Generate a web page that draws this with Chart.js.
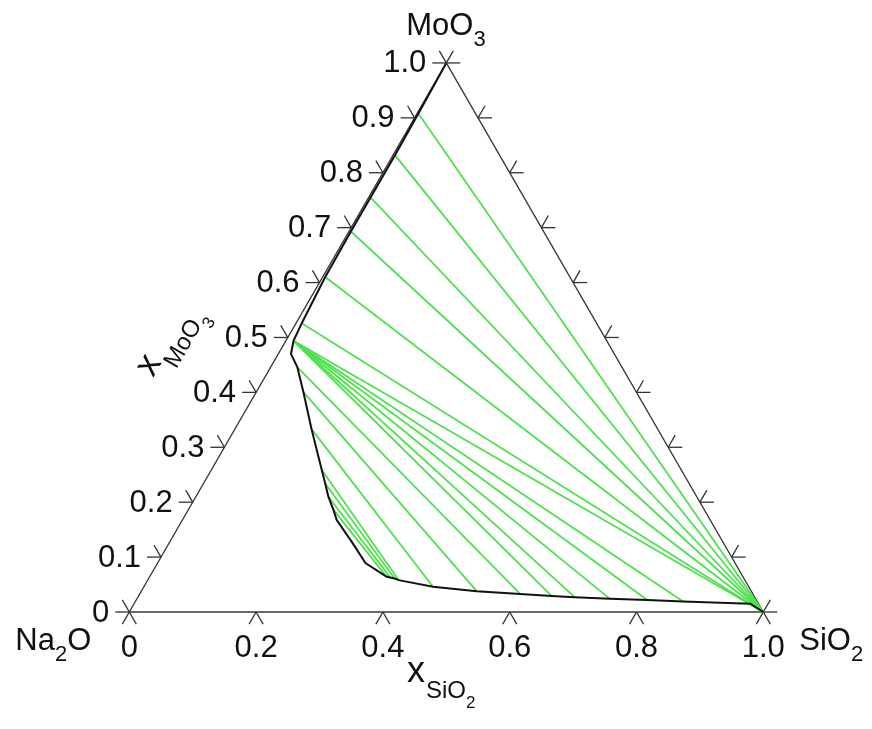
<!DOCTYPE html>
<html>
<head>
<meta charset="utf-8">
<script src="https://cdn.jsdelivr.net/npm/chart.js@4.4.0/dist/chart.umd.min.js"></script>
<style>
  body { margin: 0; background: #fff; }
  #wrap { width: 872px; height: 729px; }
</style>
</head>
<body>
<div id="wrap"><canvas id="tern" width="872" height="729"></canvas></div>
<script>
// === DONNÉES (compositions ternaires : xSiO2, xMoO3) ===
// frontière du domaine biphasé (ligne noire)
const bndS = [0.000, 0.002, 0.003, 0.003, 0.003, 0.004, 0.009, 0.012, 0.020, 0.042, 0.074, 0.121, 0.174, 0.192, 0.209, 0.229, 0.243, 0.290, 0.328, 0.374, 0.380, 0.388, 0.396, 0.456, 0.529, 0.600, 0.652, 0.689, 0.746, 0.806, 0.864, 0.972, 1.000];
const bndM = [1.000, 0.908, 0.832, 0.755, 0.693, 0.610, 0.526, 0.494, 0.470, 0.446, 0.401, 0.333, 0.259, 0.234, 0.210, 0.186, 0.168, 0.125, 0.089, 0.064, 0.063, 0.061, 0.058, 0.046, 0.038, 0.033, 0.029, 0.027, 0.024, 0.022, 0.019, 0.015, 0.000];

// conodes (lignes vertes) : début -> fin
const tieS0 = [0.002, 0.003, 0.003, 0.003, 0.004, 0.009, 0.012, 0.012, 0.012, 0.012, 0.012, 0.012, 0.042, 0.074, 0.121, 0.174, 0.192, 0.209, 0.229];
const tieM0 = [0.908, 0.832, 0.755, 0.693, 0.610, 0.526, 0.494, 0.494, 0.494, 0.494, 0.494, 0.494, 0.446, 0.401, 0.333, 0.259, 0.234, 0.210, 0.186];
const tieS1 = [1.000, 1.000, 1.000, 1.000, 1.000, 1.000, 1.000, 0.864, 0.806, 0.746, 0.689, 0.652, 0.600, 0.529, 0.456, 0.396, 0.388, 0.380, 0.374];
const tieM1 = [0.000, 0.000, 0.000, 0.000, 0.000, 0.000, 0.000, 0.019, 0.022, 0.024, 0.027, 0.029, 0.033, 0.038, 0.046, 0.058, 0.061, 0.063, 0.064];

// graduations
const leftTicks = [0, 0.1, 0.2, 0.3, 0.4, 0.5, 0.6, 0.7, 0.8, 0.9, 1.0];
const leftLabels = ["0", "0.1", "0.2", "0.3", "0.4", "0.5", "0.6", "0.7", "0.8", "0.9", "1.0"];
const bottomTicks = [0, 0.2, 0.4, 0.6, 0.8, 1.0];
const bottomLabels = ["0", "0.2", "0.4", "0.6", "0.8", "1.0"];
const rightTicks = [0, 0.1, 0.2, 0.3, 0.4, 0.5, 0.6, 0.7, 0.8, 0.9, 1.0];

const SQ3 = Math.sqrt(3) / 2;
const FONT = '"Liberation Sans", Arial, sans-serif';

// composition ternaire -> coordonnées cartésiennes
function toXY(s, m) {
    return { x: s + m / 2, y: m * SQ3 };
}

const edgeData = [toXY(0, 0), toXY(1, 0), toXY(0, 1), toXY(0, 0)];
const bndData = bndS.map((s, i) => toXY(s, bndM[i]));

const tieSets = tieS0.map((s, i) => ({
    data: [toXY(s, tieM0[i]), toXY(tieS1[i], tieM1[i])],
    borderColor: '#4fe04f',
    borderWidth: 1.8,
    showLine: true,
    pointRadius: 0,
    order: 2
}));

// dessine un texte chimique avec indices (parts: [texte, indice?])
function drawChem(ctx, parts, x, y, size, subSize, align) {
    let w = 0;
    parts.forEach(p => {
        ctx.font = (p[1] ? subSize : size) + 'px ' + FONT;
        w += ctx.measureText(p[0]).width;
    });
    let cx = align === 'right' ? x - w : (align === 'center' ? x - w / 2 : x);
    parts.forEach(p => {
        ctx.font = (p[1] ? subSize : size) + 'px ' + FONT;
        ctx.fillText(p[0], cx, p[1] ? y + size * 0.36 : y);
        cx += ctx.measureText(p[0]).width;
    });
}

// titre d'axe "x" + indice + indice de l'indice
function drawAxisTitle(ctx, sub, subsub) {
    ctx.font = '36px ' + FONT;
    ctx.fillText('x', 0, 0);
    let w = ctx.measureText('x').width + 1;
    ctx.font = '24px ' + FONT;
    ctx.fillText(sub, w, 16);
    w += ctx.measureText(sub).width;
    ctx.font = '17px ' + FONT;
    ctx.fillText(subsub, w, 26);
}

const ternaryAxes = {
    id: 'ternaryAxes',
    afterDatasetsDraw(chart) {
        const ctx = chart.ctx;
        const sx = chart.scales.x, sy = chart.scales.y;
        const px = (s, m) => {
            const p = toXY(s, m);
            return [sx.getPixelForValue(p.x), sy.getPixelForValue(p.y)];
        };
        const L = 14;
        const cs = 0.5 * L, sn = SQ3 * L;
        ctx.save();
        ctx.strokeStyle = '#333';
        ctx.lineWidth = 1.3;
        const seg = (x, y, dx, dy) => {
            ctx.beginPath();
            ctx.moveTo(x, y);
            ctx.lineTo(x + dx, y + dy);
            ctx.stroke();
        };
        // axe gauche (xMoO3)
        leftTicks.forEach(m => {
            const [x, y] = px(0, m);
            seg(x, y, -L, 0);
            seg(x, y, -cs, -sn);
        });
        // axe droit
        rightTicks.forEach(m => {
            const [x, y] = px(1 - m, m);
            seg(x, y, L, 0);
            seg(x, y, cs, -sn);
        });
        // axe du bas (xSiO2)
        bottomTicks.forEach(s => {
            const [x, y] = px(s, 0);
            seg(x, y, -cs, sn);
            seg(x, y, cs, sn);
        });

        ctx.fillStyle = '#111';
        ctx.textBaseline = 'middle';
        ctx.font = '31px ' + FONT;
        ctx.textAlign = 'right';
        leftTicks.forEach((m, i) => {
            const [x, y] = px(0, m);
            ctx.fillText(leftLabels[i], x - L - 6, y + 1);
        });
        ctx.textAlign = 'center';
        ctx.textBaseline = 'alphabetic';
        bottomTicks.forEach((s, i) => {
            const [x, y] = px(s, 0);
            ctx.fillText(bottomLabels[i], x, y + 45);
        });

        // sommets
        ctx.textAlign = 'left';
        const [ax, ay] = px(0, 0);
        const [bx, by] = px(1, 0);
        const [tx, ty] = px(0, 1);
        drawChem(ctx, [['Na'], ['2', 1], ['O']], ax - 38, ay + 38, 31, 22, 'right');
        drawChem(ctx, [['Si'], ['O'], ['2', 1]], bx + 36, by + 38, 31, 22, 'left');
        drawChem(ctx, [['Mo'], ['O'], ['3', 1]], tx - 40, ty - 28, 31, 22, 'left');

        // titre axe du bas : x_SiO2
        ctx.save();
        ctx.translate(407, 682);
        drawAxisTitle(ctx, 'SiO', '2');
        ctx.restore();

        // titre axe gauche : x_MoO3 (tourné)
        ctx.translate(153, 378);
        ctx.rotate(-Math.PI / 3);
        drawAxisTitle(ctx, 'MoO', '3');
        ctx.restore();
    }
};

// === GRAPHIQUE ===
const X0 = 129.3, Y0 = 612, UNIT = 634;
new Chart(document.getElementById('tern').getContext('2d'), {
    type: 'scatter',
    data: {
        datasets: [
            {
                data: edgeData,
                borderColor: '#3a3a3a',
                borderWidth: 1.4,
                showLine: true,
                pointRadius: 0,
                order: 3
            },
            ...tieSets,
            {
                data: bndData,
                borderColor: '#111',
                borderWidth: 2,
                showLine: true,
                pointRadius: 0,
                order: 1
            }
        ]
    },
    options: {
        responsive: false,
        animation: false,
        events: [],
        layout: { padding: 0 },
        plugins: { legend: { display: false }, tooltip: { enabled: false } },
        scales: {
            x: { type: 'linear', display: false, min: -X0 / UNIT, max: (872 - X0) / UNIT },
            y: { type: 'linear', display: false, min: -(729 - Y0) / UNIT, max: Y0 / UNIT }
        }
    },
    plugins: [ternaryAxes]
});
</script>
</body>
</html>
